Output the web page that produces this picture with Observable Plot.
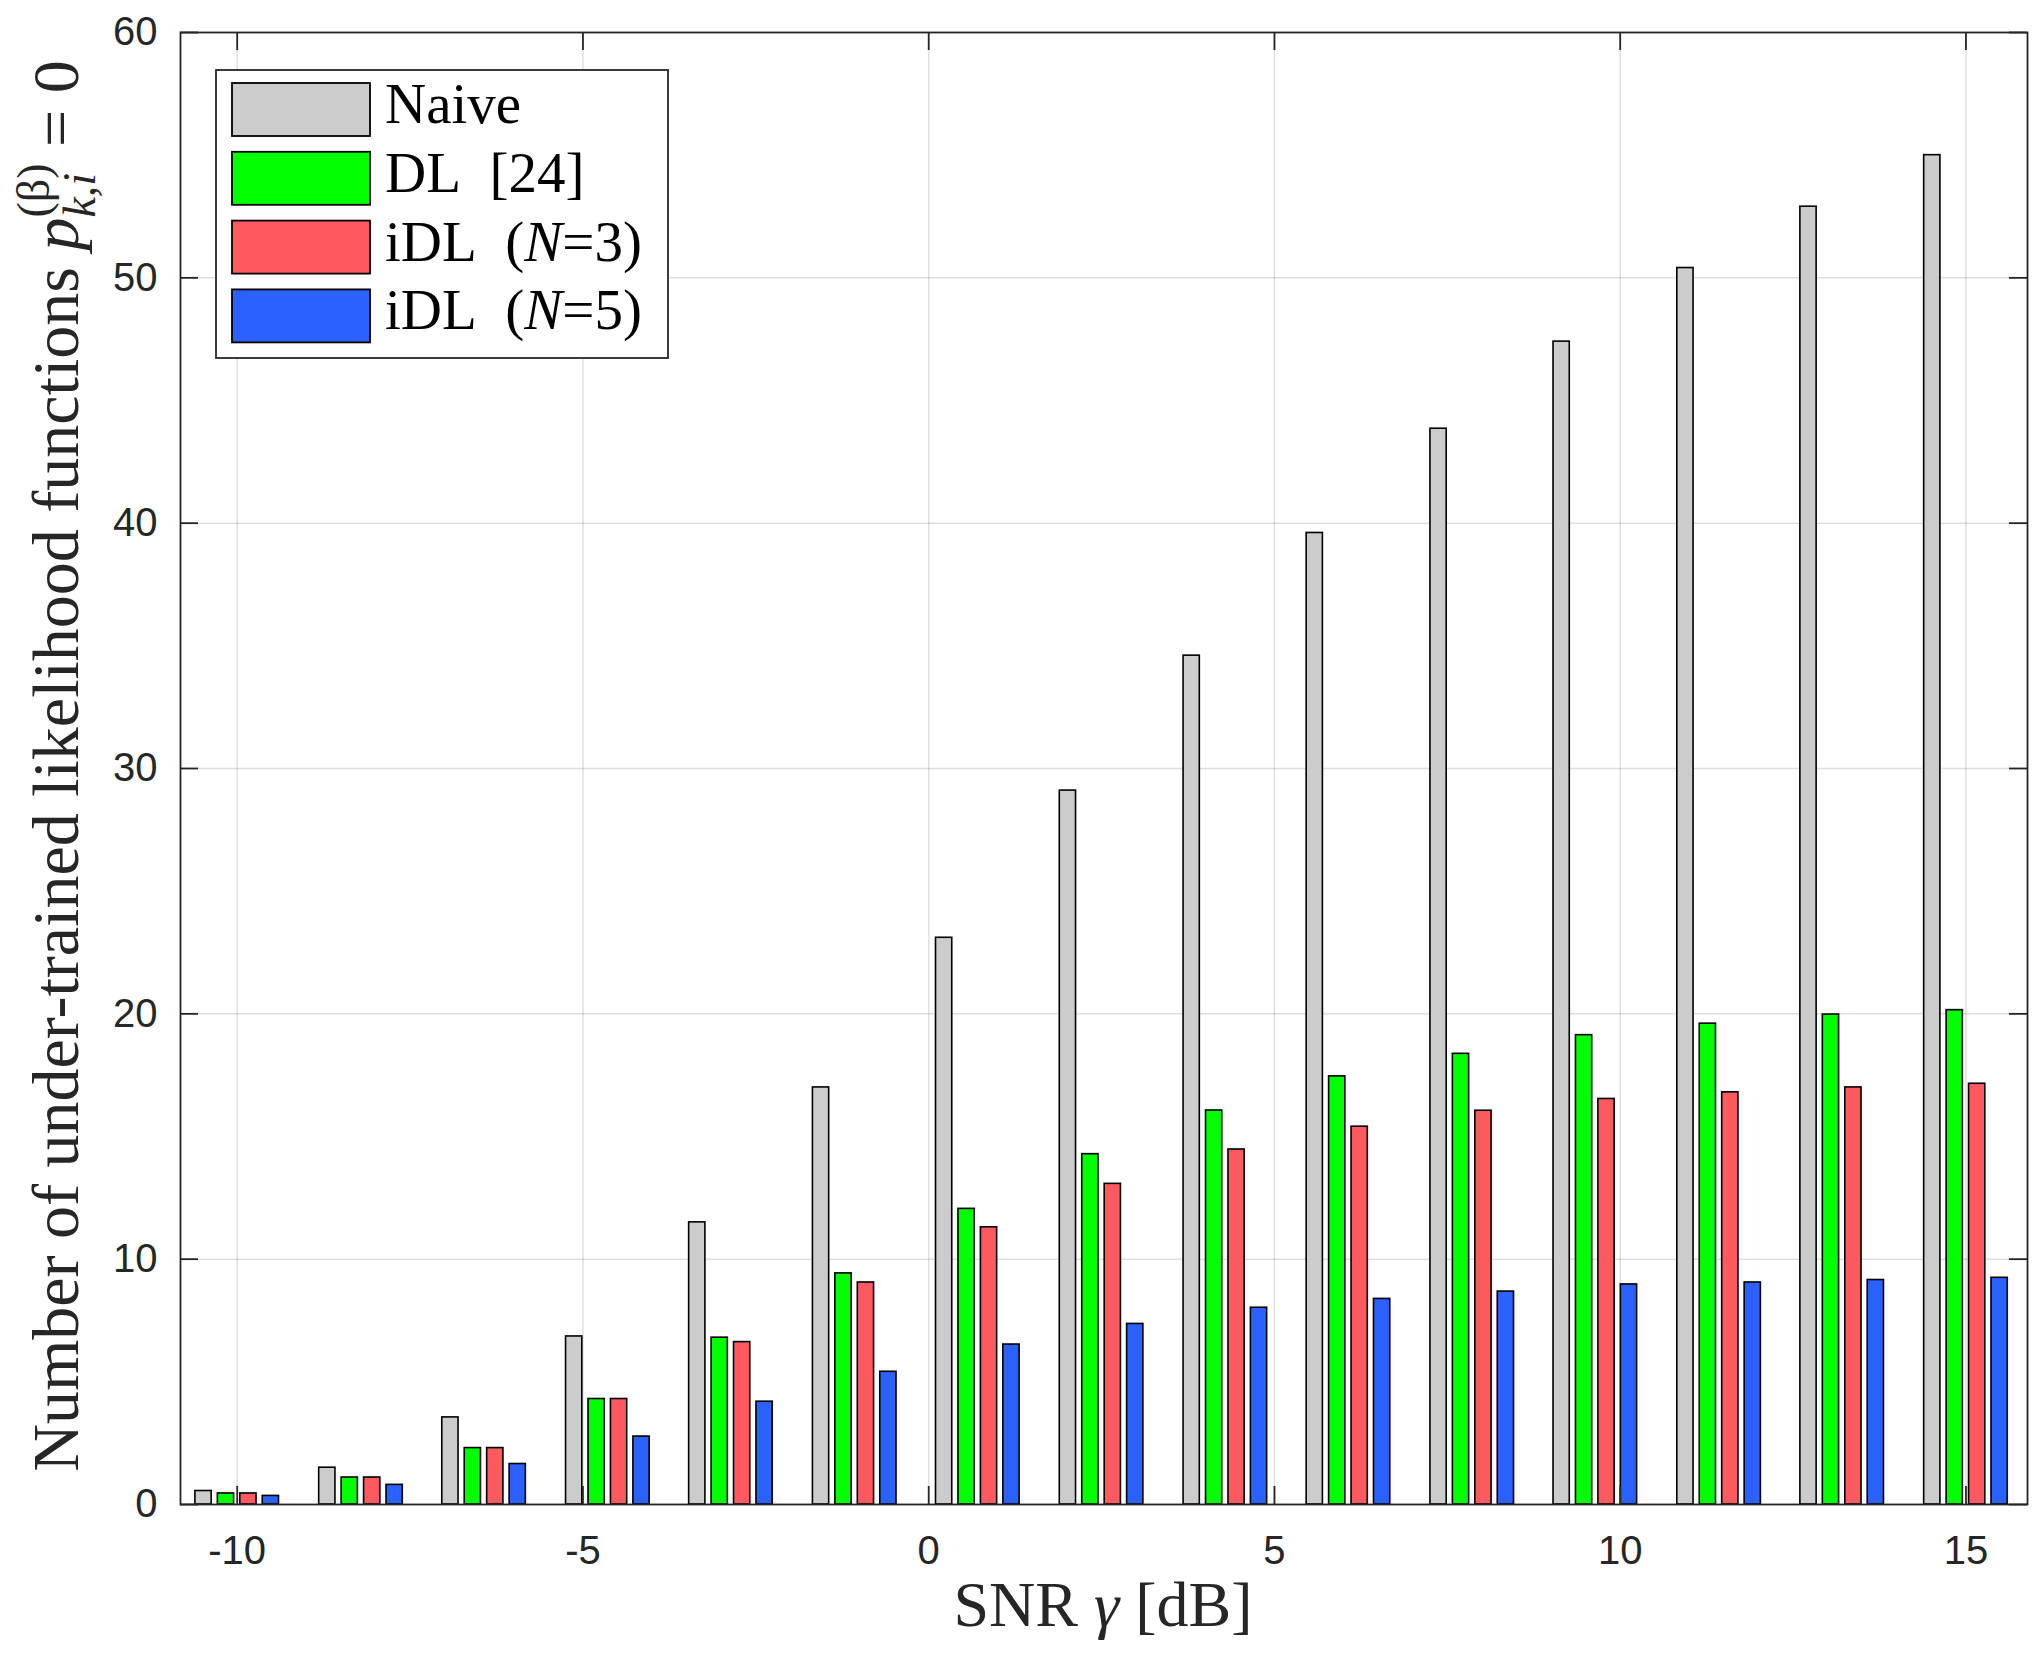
<!DOCTYPE html>
<html><head><meta charset="utf-8">
<script src="https://cdn.jsdelivr.net/npm/d3@7"></script>
<script src="https://cdn.jsdelivr.net/npm/@observablehq/plot@0.6"></script>
<style>html,body{margin:0;padding:0;background:#fff;} svg{display:block}</style>
</head><body><div id="chart"></div>
<script>
// ---- data ----
const snr = [-10, -8.21, -6.43, -4.64, -2.86, -1.07, 0.71, 2.5, 4.29, 6.07, 7.86, 9.64, 11.43, 13.21, 15];
const naive = [0.55, 1.5, 3.55, 6.85, 11.5, 17.0, 23.1, 29.1, 34.6, 39.6, 43.85, 47.4, 50.4, 52.9, 55.0];
const dl    = [0.45, 1.1, 2.3, 4.3, 6.8, 9.42, 12.05, 14.28, 16.06, 17.45, 18.37, 19.13, 19.6, 19.97, 20.15];
const idl3  = [0.45, 1.1, 2.3, 4.3, 6.62, 9.05, 11.3, 13.07, 14.47, 15.4, 16.05, 16.53, 16.8, 17.0, 17.15];
const idl5  = [0.35, 0.8, 1.65, 2.77, 4.19, 5.41, 6.52, 7.36, 8.02, 8.38, 8.68, 8.97, 9.05, 9.15, 9.24];
const seriesNames = ["Naive", "DL [24]", "iDL (N=3)", "iDL (N=5)"];
const seriesColors = ["#cccccc", "#00ff00", "#ff5a5f", "#2b62ff"];
const xTicks = [-10, -5, 0, 5, 10, 15];
const yTicks = [0, 10, 20, 30, 40, 50, 60];

// ---- layout/style ----
const seriesValues = [naive, dl, idl3, idl5];
const slot = 0.3246, barW = 0.235;
const rows = seriesValues.flatMap((vals, s) => vals.map((v, i) => ({snr: snr[i], s, series: seriesNames[s], value: v})));
const axisColor = "#262626";
const sans = "'Liberation Sans', Arial, Helvetica, sans-serif";
const serif = "'Liberation Serif', 'Times New Roman', serif";
const W = 2044, H = 1659, mL = 180, mR = 17, mT = 32, mB = 155;
const innerW = W - mL - mR, innerH = H - mT - mB, tickLen = 18;

const chart = Plot.plot({
  width: W, height: H,
  marginLeft: mL, marginRight: mR, marginTop: mT, marginBottom: mB,
  style: {background: "#fff", fontFamily: sans, overflow: "visible"},
  x: {type: "linear", domain: [-10.82, 15.89]},
  y: {domain: [0, 60]},
  color: {domain: seriesNames, range: seriesColors},
  marks: [
    Plot.gridX(xTicks, {stroke: axisColor, strokeOpacity: 0.15, strokeWidth: 1.5}),
    Plot.gridY(yTicks, {stroke: axisColor, strokeOpacity: 0.15, strokeWidth: 1.5}),
    Plot.rect(rows, {
      x1: d => d.snr + (d.s - 1.5) * slot - barW / 2,
      x2: d => d.snr + (d.s - 1.5) * slot + barW / 2,
      y1: d => 0, y2: "value",
      fill: "series", stroke: "#000", strokeWidth: 1.6
    }),
    Plot.frame({stroke: axisColor, strokeWidth: 1.8}),
    // inward tick marks on all four sides
    Plot.tickX(xTicks, {x: d => d, insetTop: innerH - tickLen, stroke: axisColor, strokeWidth: 1.8}),
    Plot.tickX(xTicks, {x: d => d, insetBottom: innerH - tickLen, stroke: axisColor, strokeWidth: 1.8}),
    Plot.tickY(yTicks, {y: d => d, insetRight: innerW - tickLen, stroke: axisColor, strokeWidth: 1.8}),
    Plot.tickY(yTicks, {y: d => d, insetLeft: innerW - tickLen, stroke: axisColor, strokeWidth: 1.8}),
    Plot.axisX(xTicks, {anchor: "bottom", tickSize: 0, tickPadding: 31, fontSize: 40, fill: axisColor, tickFormat: d => String(d), label: null}),
    Plot.axisY(yTicks, {anchor: "left", tickSize: 0, tickPadding: 23, fontSize: 40, fill: axisColor, tickFormat: d => String(d), label: null})
  ]
});
document.getElementById("chart").appendChild(chart);

const svg = d3.select(chart);

// ---- x label ----
const xl = svg.append("text").attr("x", 1103).attr("y", 1626).attr("text-anchor", "middle")
  .attr("font-family", serif).attr("font-size", 64).attr("fill", axisColor);
xl.append("tspan").text("SNR ");
xl.append("tspan").attr("font-style", "italic").text("γ");
xl.append("tspan").text(" [dB]");

// ---- y label ----
const yg = svg.append("g").attr("transform", "translate(78,766) rotate(-90)");
const yl = yg.append("text").attr("text-anchor", "middle").attr("font-family", serif)
  .attr("font-size", 66).attr("fill", axisColor);
yl.append("tspan").text("Number of under-trained likelihood functions ");
yl.append("tspan").attr("font-style", "italic").text("p");
const sup = yl.append("tspan").attr("font-size", 46).attr("dy", -29).text("(β)");
const supLen = sup.node().getComputedTextLength();
const sub = yl.append("tspan").attr("font-size", 46).attr("font-style", "italic").attr("dx", -supLen).attr("dy", 46).text("k,i");
const subLen = sub.node().getComputedTextLength();
yl.append("tspan").attr("dx", Math.max(0, supLen - subLen)).attr("dy", -17).text(" = 0");

// ---- legend ----
const lg = svg.append("g");
lg.append("rect").attr("x", 216).attr("y", 70).attr("width", 452).attr("height", 288)
  .attr("fill", "#fff").attr("stroke", axisColor).attr("stroke-width", 1.8);
const legendParts = [
  [["Naive", false]],
  [["DL\u2002[24]", false]],
  [["iDL\u2002(", false], ["N", true], ["=3)", false]],
  [["iDL\u2002(", false], ["N", true], ["=5)", false]]
];
seriesNames.forEach((name, i) => {
  const y0 = 83 + i * 68.8;
  lg.append("rect").attr("x", 232).attr("y", y0).attr("width", 138).attr("height", 53)
    .attr("fill", seriesColors[i]).attr("stroke", "#000").attr("stroke-width", 1.8);
  const t = lg.append("text").attr("x", 385).attr("y", y0 + 40).attr("text-anchor", "start")
    .attr("font-family", serif).attr("font-size", 57).attr("fill", "#000");
  legendParts[i].forEach(([s, it]) => t.append("tspan").attr("font-style", it ? "italic" : null).text(s));
});
</script>
</body></html>
